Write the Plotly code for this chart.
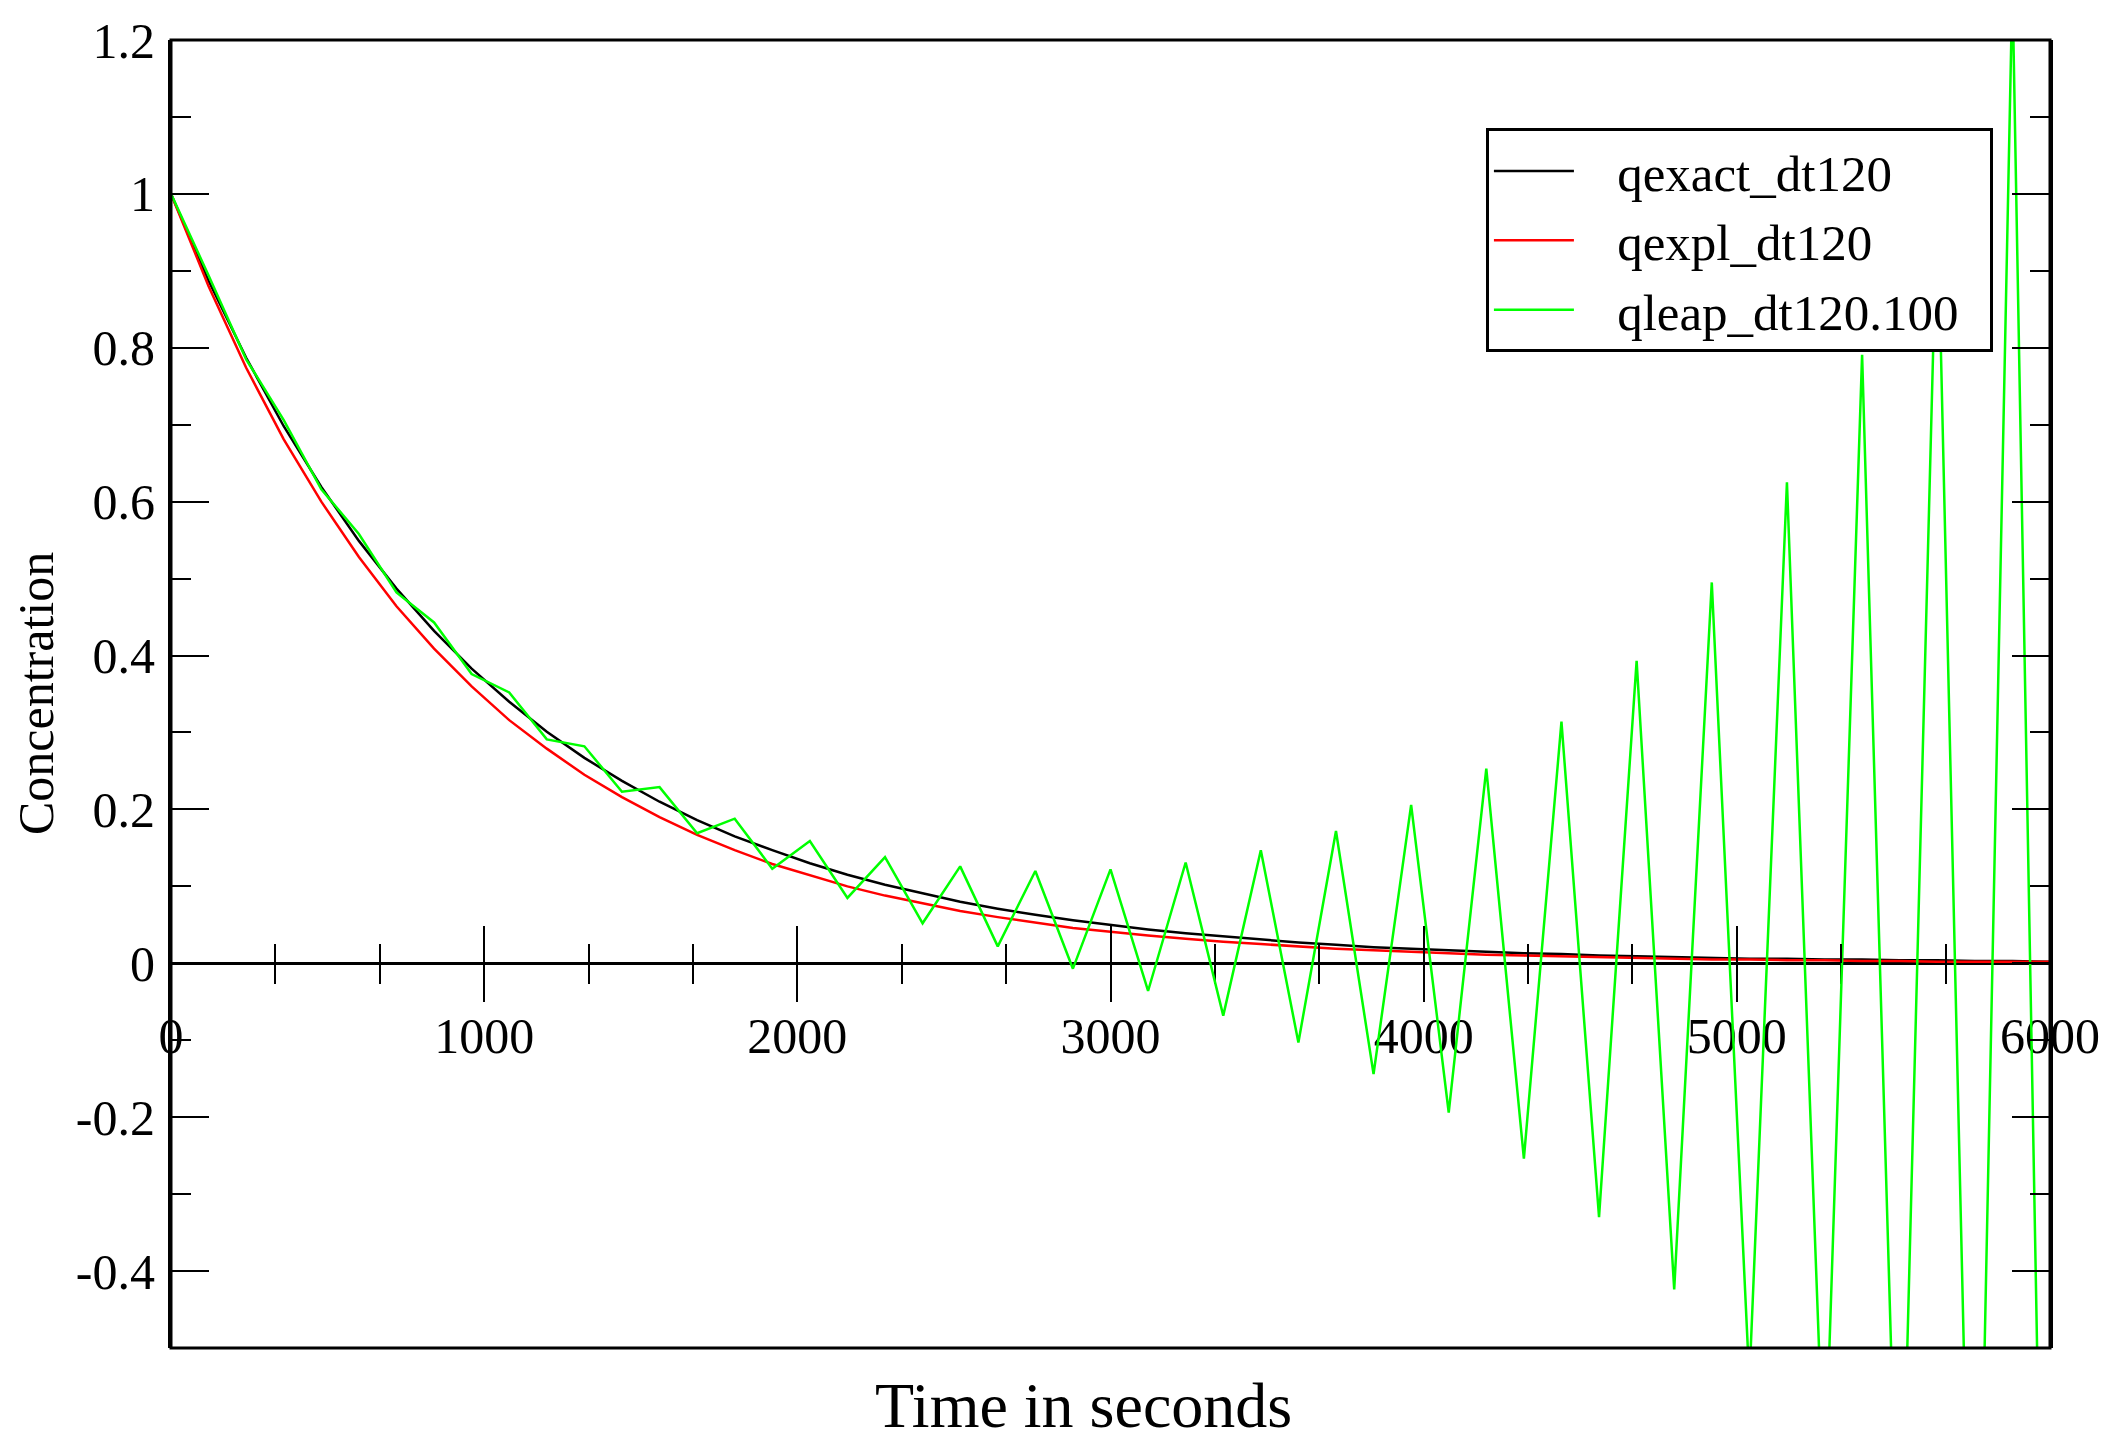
import plotly.graph_objects as go

# time axis (seconds), dt = 120
time_s = [0, 120, 240, 360, 480, 600, 720, 840, 960, 1080, 1200, 1320, 1440, 1560, 1680,
          1800, 1920, 2040, 2160, 2280, 2400, 2520, 2640, 2760, 2880, 3000, 3120, 3240,
          3360, 3480, 3600, 3720, 3840, 3960, 4080, 4200, 4320, 4440, 4560, 4680, 4800,
          4920, 5040, 5160, 5280, 5400, 5520, 5640, 5760, 5880, 6000]

qexact_dt120 = [1.000, 0.887, 0.787, 0.698, 0.619, 0.549, 0.487, 0.432, 0.383, 0.340,
                0.301, 0.267, 0.237, 0.210, 0.186, 0.165, 0.147, 0.130, 0.115, 0.102,
                0.091, 0.080, 0.071, 0.063, 0.056, 0.050, 0.044, 0.039, 0.035, 0.031,
                0.027, 0.024, 0.021, 0.019, 0.017, 0.015, 0.013, 0.012, 0.010, 0.009,
                0.008, 0.007, 0.006, 0.006, 0.005, 0.005, 0.004, 0.004, 0.003, 0.003, 0.002]

qexpl_dt120 = [1.000, 0.880, 0.774, 0.681, 0.600, 0.528, 0.464, 0.409, 0.360, 0.316,
               0.279, 0.245, 0.216, 0.190, 0.167, 0.147, 0.129, 0.114, 0.100, 0.088,
               0.078, 0.068, 0.060, 0.053, 0.046, 0.041, 0.036, 0.032, 0.028, 0.025,
               0.022, 0.019, 0.017, 0.015, 0.013, 0.011, 0.010, 0.009, 0.008, 0.007,
               0.006, 0.005, 0.005, 0.004, 0.004, 0.003, 0.003, 0.002, 0.002, 0.002, 0.002]

qleap_dt120_100 = [1.000, 0.894, 0.785, 0.706, 0.616, 0.558, 0.482, 0.443, 0.376, 0.352,
                   0.291, 0.282, 0.223, 0.229, 0.169, 0.188, 0.123, 0.159, 0.085, 0.138,
                   0.052, 0.126, 0.022, 0.120, -0.007, 0.122, -0.036, 0.131, -0.068, 0.147,
                   -0.103, 0.172, -0.144, 0.206, -0.194, 0.253, -0.254, 0.314, -0.330, 0.393,
                   -0.424, 0.495, -0.543, 0.625, -0.693, 0.791, -0.883, 1.003, -1.124, 1.273, -1.429]

series_names = ["qexact_dt120", "qexpl_dt120", "qleap_dt120.100"]

x_tick_vals = [0, 1000, 2000, 3000, 4000, 5000, 6000]
x_tick_text = ["0", "1000", "2000", "3000", "4000", "5000", "6000"]
y_tick_vals = [-0.4, -0.2, 0, 0.2, 0.4, 0.6, 0.8, 1.0, 1.2]
y_tick_text = ["-0.4", "-0.2", "0", "0.2", "0.4", "0.6", "0.8", "1", "1.2"]
y_minor_vals = [-0.3, -0.1, 0.1, 0.3, 0.5, 0.7, 0.9, 1.1]

FONT = "Liberation Serif"
X_RANGE = [0, 6000]
Y_RANGE = [-0.5, 1.2]
zero_pos = (0 - Y_RANGE[0]) / (Y_RANGE[1] - Y_RANGE[0])

NB = "\u00a0"


def legend_label(s):
    # non-breaking spaces give the gap between sample line and text
    return NB * 3 + s + NB * 2


fig = go.Figure()
fig.add_trace(go.Scatter(x=time_s, y=qexact_dt120, name=legend_label(series_names[0]),
                         mode="lines", line=dict(color="#000000", width=2.5)))
fig.add_trace(go.Scatter(x=time_s, y=qexpl_dt120, name=legend_label(series_names[1]),
                         mode="lines", line=dict(color="#ff0000", width=2.5)))
fig.add_trace(go.Scatter(x=time_s, y=qleap_dt120_100, name=legend_label(series_names[2]),
                         mode="lines", line=dict(color="#00ff00", width=2.5)))
# carrier for the upward half of the crossing x ticks
fig.add_trace(go.Scatter(x=[], y=[], xaxis="x2", yaxis="y", showlegend=False,
                         hoverinfo="skip"))

common_x = dict(range=X_RANGE, showgrid=False, zeroline=False, anchor="free",
                position=zero_pos, tickvals=x_tick_vals, ticklen=37, tickwidth=2,
                tickcolor="black")

fig.update_layout(
    width=2112, height=1430,
    margin=dict(l=171, r=62, t=32, b=82),
    paper_bgcolor="white", plot_bgcolor="white",
    font=dict(family=FONT, color="black", size=50),
    xaxis=dict(**common_x, ticktext=x_tick_text, ticks="outside", showline=True,
               linecolor="black", linewidth=3, layer="below traces",
               tickfont=dict(family=FONT, size=50, color="black"),
               ticklabelstandoff=-9,
               minor=dict(dtick=1000 / 3, tick0=0, ticks="outside", ticklen=19,
                          tickwidth=2, tickcolor="black")),
    xaxis2=dict(**common_x, overlaying="x", ticks="inside", showticklabels=False,
                showline=False, matches="x",
                minor=dict(dtick=1000 / 3, tick0=0, ticks="inside", ticklen=19,
                           tickwidth=2, tickcolor="black")),
    yaxis=dict(range=Y_RANGE, showgrid=False, zeroline=False, tickvals=y_tick_vals,
               ticktext=y_tick_text, ticks="inside", ticklen=38, tickwidth=2,
               tickcolor="black", showline=True, linecolor="black", linewidth=3,
               mirror="ticks", tickfont=dict(family=FONT, size=50, color="black"),
               ticklabelstandoff=3,
               minor=dict(tickvals=y_minor_vals, ticks="inside", ticklen=20,
                          tickwidth=2, tickcolor="black")),
    legend=dict(x=0.6998, y=0.9324, xanchor="left", yanchor="top",
                bgcolor="white", bordercolor="black", borderwidth=3,
                font=dict(family=FONT, size=51, color="black"), itemwidth=80,
                tracegroupgap=0),
    shapes=[dict(type="rect", xref="paper", yref="paper", x0=0, x1=1, y0=0, y1=1,
                 line=dict(color="black", width=3), layer="above")],
    annotations=[
        dict(text="Concentration", xref="paper", yref="paper", x=-0.0718, y=0.5,
             textangle=-90, showarrow=False, xanchor="center", yanchor="middle",
             font=dict(family=FONT, size=50, color="black")),
        dict(text="Time in seconds", xref="paper", yref="paper", x=0.4854, y=-0.044,
             showarrow=False, xanchor="center", yanchor="middle",
             font=dict(family=FONT, size=64, color="black")),
    ],
)

fig.write_html("out.html")
